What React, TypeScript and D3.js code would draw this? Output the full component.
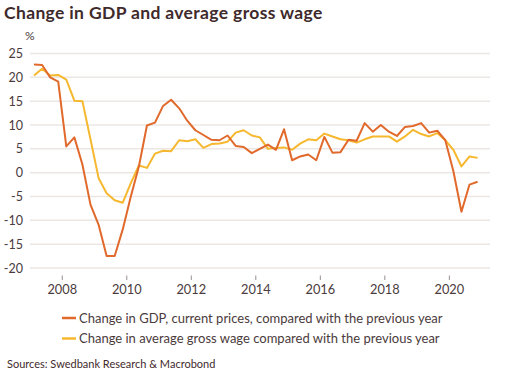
import React from "react";
import * as d3 from "d3";

const startYear = 2007;
const gdpChange = [
  22.7, 22.6, 20.0, 19.1, 5.5, 7.4, 1.7, -6.7, -10.9, -17.5, -17.5, -11.9, -5.0, 1.3,
  9.9, 10.5, 14.0, 15.3, 13.5, 10.9, 8.9, 7.9, 6.9, 6.8, 7.8, 5.6, 5.4, 4.1,
  5.0, 5.9, 4.8, 9.1, 2.6, 3.4, 3.8, 2.6, 7.5, 4.2, 4.3, 6.9, 6.7, 10.4,
  8.6, 10.0, 8.6, 7.7, 9.6, 9.8, 10.4, 8.4, 8.8, 6.8, 0.3, -8.2, -2.5, -1.9,
];
const wageChange = [
  20.4, 21.8, 20.4, 20.5, 19.5, 15.1, 15.0, 7.0, -1.1, -4.3, -5.8, -6.3, -2.2, 1.5,
  1.0, 4.0, 4.6, 4.5, 6.8, 6.6, 7.0, 5.2, 6.0, 6.1, 6.5, 8.4, 8.9, 7.8,
  7.4, 5.0, 5.2, 5.3, 4.8, 6.1, 7.0, 6.8, 8.2, 7.6, 7.0, 6.8, 6.3, 7.0,
  7.6, 7.6, 7.6, 6.5, 7.6, 9.0, 8.1, 7.6, 8.3, 6.8, 4.8, 1.3, 3.4, 3.1,
];
const yTicks = [25, 20, 15, 10, 5, 0, -5, -10, -15, -20];
const xTicks = [2008, 2010, 2012, 2014, 2016, 2018, 2020];
const seriesNames = [
  "Change in GDP, current prices, compared with the previous year",
  "Change in average gross wage compared with the previous year",
];
const title = "Change in GDP and average gross wage";
const source = "Sources: Swedbank Research & Macrobond";

const W = 505;
const H = 377;
const FONT = "Lato, 'Open Sans', sans-serif";
const TEXT = "#4b3b3c";
const GDP_COLOR = "#e0692b";
const WAGE_COLOR = "#f6b82f";

export default function App() {
  const x = d3.scaleLinear().domain([2007, 2021.26]).range([30, 490]);
  const y = d3.scaleLinear().domain([-20, 25]).range([268, 53.5]);
  const t = (i: number) => startYear + (i + 0.5) / 4;
  const line = d3
    .line<number>()
    .x((_, i) => x(t(i)))
    .y((d) => y(d));

  return (
    <svg
      width={W}
      height={H}
      style={{ position: "absolute", left: 0, top: 0, background: "#fff" }}
      fontFamily={FONT}
    >
      <text x={4} y={19} fontSize={17.5} fontWeight={700} letterSpacing={0.35} fill="#3f2a2c">
        {title}
      </text>
      <text x={25} y={40} fontSize={12} fill={TEXT}>
        %
      </text>
      {yTicks.map((v) => (
        <g key={v}>
          <line x1={30} x2={490} y1={y(v)} y2={y(v)} stroke="#ece7e4" strokeWidth={1.5} />
          <text x={23} y={y(v) + 4.5} fontSize={12.5} textAnchor="end" fill={TEXT}>
            {v}
          </text>
        </g>
      ))}
      {xTicks.map((v) => (
        <g key={v}>
          <line x1={x(v)} x2={x(v)} y1={275.5} y2={280} stroke="#9a9090" strokeWidth={1} />
          <text x={x(v)} y={294} fontSize={12.8} textAnchor="middle" fill={TEXT}>
            {v}
          </text>
        </g>
      ))}
      <path d={line(wageChange) || ""} fill="none" stroke={WAGE_COLOR} strokeWidth={2} strokeLinejoin="round" />
      <path d={line(gdpChange) || ""} fill="none" stroke={GDP_COLOR} strokeWidth={2} strokeLinejoin="round" />
      {[GDP_COLOR, WAGE_COLOR].map((c, i) => (
        <g key={c}>
          <line x1={62} x2={76} y1={318 + i * 20.5} y2={318 + i * 20.5} stroke={c} strokeWidth={2.5} />
          <text x={79} y={322.5 + i * 20.5} fontSize={13} fill={TEXT}>
            {seriesNames[i]}
          </text>
        </g>
      ))}
      <text x={7} y={368} fontSize={11} fill="#3f2a2c">
        {source}
      </text>
    </svg>
  );
}
